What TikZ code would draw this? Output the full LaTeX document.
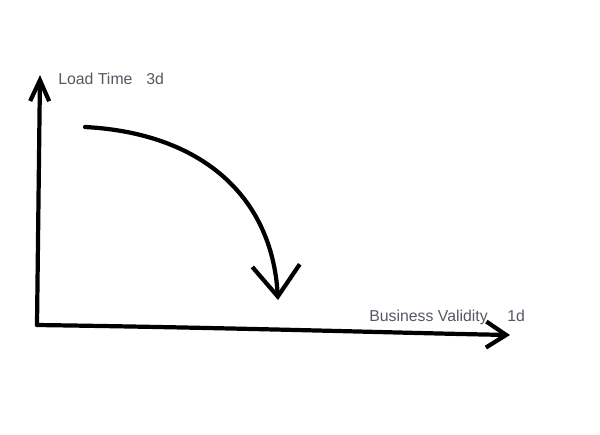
\documentclass[tikz,border=0pt]{standalone}
\usepackage{fontspec}
\setmainfont{Liberation Sans}
\usetikzlibrary{arrows.meta}
\definecolor{labelgray}{RGB}{85,88,98}
\begin{document}
\begin{tikzpicture}[x=0.02cm,y=-0.02cm,line join=round,line cap=round,
  axis/.style={line width=2.4pt},
  lbl/.style={text=labelgray,font=\fontsize{9}{11}\selectfont,inner sep=0pt,anchor=base west}]
 	\useasboundingbox (0,0) rectangle (600,434);
 	\coordinate (O) at (37,325);
 	\coordinate (ytop) at (40,75);
 	\coordinate (xend) at (510,335);
 	\coordinate (start) at (85,127);
 	\coordinate (stop) at (278,300);
 	\draw[axis,-{Straight Barb[length=0.42cm,width=0.38cm]}] (O)--(ytop);
 	\draw[axis,-{Straight Barb[length=0.4cm,width=0.52cm]}] (O)..controls (250,328) and (400,333)..(xend);
 	\draw[axis,-{Straight Barb[length=0.62cm,width=0.95cm]}] (start)..controls (200,133) and (272,195)..(stop);
 	\node[lbl] (load) at (58,84) {Load Time};
 	\node[lbl] (three) at (146,84) {3d};
 	\node[lbl] (business) at (369,321) {Business Validity};
 	\node[lbl] (one) at (507,321) {1d};
\end{tikzpicture}
\end{document}
